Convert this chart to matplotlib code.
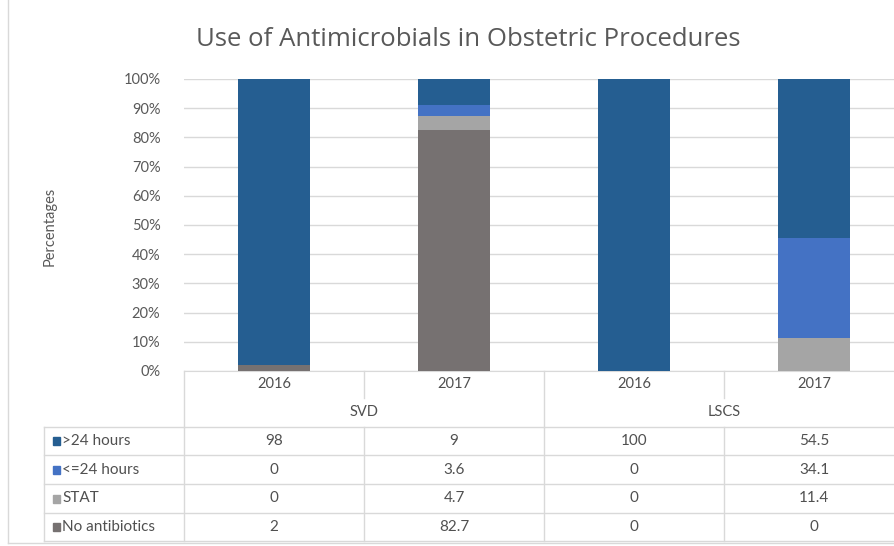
import numpy as np
import matplotlib
matplotlib.use("Agg")
import matplotlib.pyplot as plt
from matplotlib.transforms import blended_transform_factory
from matplotlib.patches import Rectangle

# data
years = ["2016", "2017", "2016", "2017"]
groups = ["SVD", "LSCS"]
series = [">24 hours", "<=24 hours", "STAT", "No antibiotics"]
over24 = [98, 9, 100, 54.5]
under24 = [0, 3.6, 0, 34.1]
stat = [0, 4.7, 0, 11.4]
no_ab = [2, 82.7, 0, 0]
cell_text = [["98", "9", "100", "54.5"],
             ["0", "3.6", "0", "34.1"],
             ["0", "4.7", "0", "11.4"],
             ["2", "82.7", "0", "0"]]
colors = ["#255E91", "#4472C4", "#A5A5A5", "#767171"]

W, H = 894, 546
fig = plt.figure(figsize=(W / 100, H / 100), dpi=100)
plt.rcParams['font.family'] = ['Lato', 'DejaVu Sans']

def fy(py):
    return 1 - py / H

ax = fig.add_axes([184 / W, fy(371), 720 / W, 292 / H])
x = np.arange(len(years))

# stacked bars, bottom to top
stack = [no_ab, stat, under24, over24]
stack_colors = [colors[3], colors[2], colors[1], colors[0]]
bottom = np.zeros(len(x))
for vals, c in zip(stack, stack_colors):
    ax.bar(x, vals, 0.4, bottom=bottom, color=c, zorder=3)
    bottom += np.array(vals)

ax.set_xlim(-0.5, 3.5)
ax.set_ylim(0, 100)
ax.set_yticks(np.arange(0, 101, 10))
ax.set_yticklabels([f"{v}%" for v in range(0, 101, 10)])
ax.tick_params(axis='y', length=0, pad=17, labelsize=10.5, labelcolor="#595959")
ax.set_xticks([])
ax.grid(axis='y', color="#D9D9D9", linewidth=1, zorder=0)
for s in ["top", "right", "left"]:
    ax.spines[s].set_visible(False)
ax.spines["bottom"].set_color("#D9D9D9")

fig.text(468 / W, fy(40), "Use of Antimicrobials in Obstetric Procedures",
         ha="center", va="center", fontsize=18.5, color="#595959",
         family="Open Sans")
fig.text(50 / W, fy(226), "Percentages", rotation=90, ha="center",
         va="center", fontsize=10.5, color="#595959")

# data table under the axis
tr = blended_transform_factory(ax.transData, fig.transFigure)
grid_c = "#D9D9D9"
txt_c = "#505050"
row_edges = [427, 455, 484, 513, 541]

def hline(x0, x1, py):
    ax.plot([x0, x1], [fy(py), fy(py)], transform=tr, color=grid_c,
            lw=1, clip_on=False)

def vline(xd, p0, p1):
    ax.plot([xd, xd], [fy(p0), fy(p1)], transform=tr, color=grid_c,
            lw=1, clip_on=False)

# header area
vline(-0.5, 371, 427)
vline(0.5, 371, 398)
vline(1.5, 371, 427)
vline(2.5, 371, 398)
for i, yr in enumerate(years):
    ax.text(i, fy(384), yr, transform=tr, ha="center", va="center",
            fontsize=10.5, color=txt_c)
for g, gx in zip(groups, [0.5, 2.5]):
    ax.text(gx, fy(412), g, transform=tr, ha="center", va="center",
            fontsize=10.5, color=txt_c)

# rows
left_px = 44
left_d = -0.5 - (184 - left_px) / 180
for py in row_edges:
    hline(left_d, 3.6, py)
vline(left_d, 427, 541)
for xd in [-0.5, 0.5, 1.5, 2.5]:
    vline(xd, 427, 541)
for r, name in enumerate(series):
    yc = (row_edges[r] + row_edges[r + 1]) / 2
    ax.add_patch(Rectangle((left_d + 9 / 180, fy(yc + 4)), 7 / 180, 8 / H,
                           transform=tr, color=colors[r], clip_on=False))
    ax.text(left_d + 18 / 180, fy(yc), name, transform=tr, ha="left",
            va="center", fontsize=11, color=txt_c)
    for i in range(len(years)):
        ax.text(i, fy(yc), cell_text[r][i], transform=tr, ha="center",
                va="center", fontsize=11, color=txt_c)

# chart area border
fig.add_artist(plt.Line2D([8 / W, 8 / W], [fy(0), fy(543)], color=grid_c, lw=1))
fig.add_artist(plt.Line2D([8 / W, 1], [fy(543), fy(543)], color=grid_c, lw=1))

fig.savefig("out.png", dpi=100)
